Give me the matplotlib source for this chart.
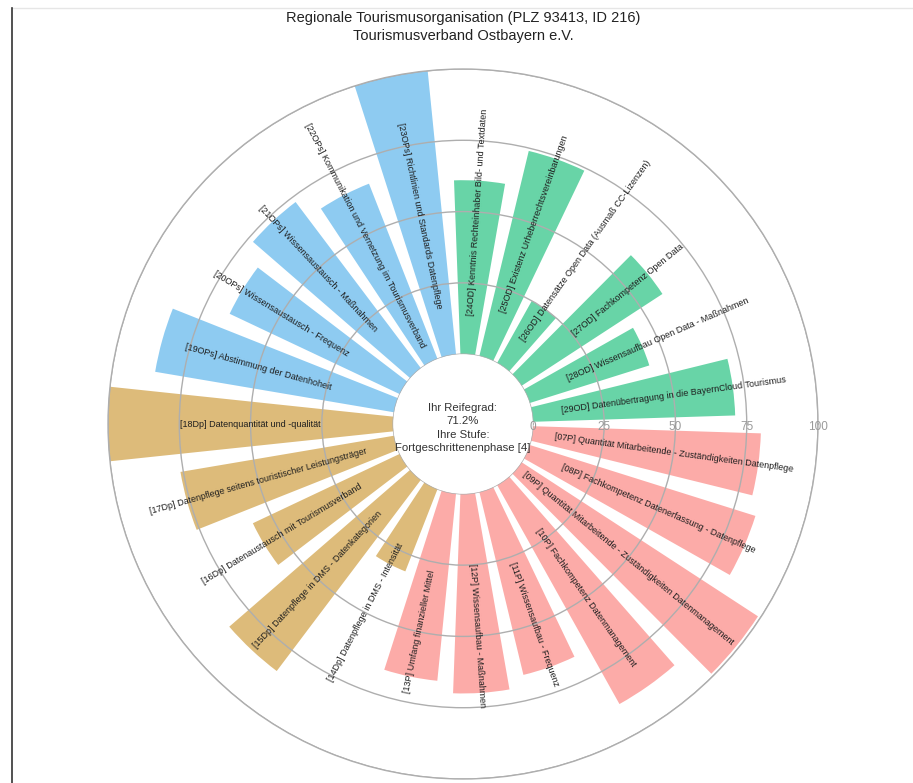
import matplotlib
matplotlib.use('Agg')
import matplotlib.pyplot as plt
import matplotlib.transforms as mtransforms
import numpy as np

plt.rcParams['font.family'] = ['Liberation Sans', 'DejaVu Sans']

codes = ['07P', '08P', '09P', '10P', '11P', '12P', '13P',
         '14Dp', '15Dp', '16Dp', '17Dp', '18Dp',
         '19OPs', '20OPs', '21OPs', '22OPs', '23OPs',
         '24OD', '25OD', '26OD', '27OD', '28OD', '29OD']
names = ['Quantität Mitarbeitende - Zuständigkeiten Datenpflege',
         'Fachkompetenz Datenerfassung - Datenpflege',
         'Quantität Mitarbeitende - Zuständigkeiten Datenmanagement',
         'Fachkompetenz Datenmanagement',
         'Wissensaufbau - Frequenz',
         'Wissensaufbau - Maßnahmen',
         'Umfang finanzieller Mittel',
         'Datenpflege in DMS - Intensität',
         'Datenpflege in DMS - Datenkategorien',
         'Datenaustausch mit Tourismusverband',
         'Datenpflege seitens touristischer Leistungsträger',
         'Datenquantität und -qualität',
         'Abstimmung der Datenhoheit',
         'Wissensaustausch - Frequenz',
         'Wissensaustausch - Maßnahmen',
         'Kommunikation und Vernetzung im Tourismusverband',
         'Richtlinien und Standards Datenpflege',
         'Kenntnis Rechteinhaber Bild- und Textdaten',
         'Existenz Urheberrechtsvereinbarungen',
         'Datensätze Open Data (Ausmaß CC-Lizenzen)',
         'Fachkompetenz Open Data',
         'Wissensaufbau Open Data - Maßnahmen',
         'Datenübertragung in die BayernCloud Tourismus']
values = [80, 83, 99, 88, 66, 70, 66,
          31, 84, 57, 76, 100,
          85, 66, 73, 66, 100,
          61, 74, 25, 59, 44, 71]
groups = ['P'] * 7 + ['Dp'] * 5 + ['OPs'] * 5 + ['OD'] * 6
group_colors = {'P': '#fcaba8', 'Dp': '#ddbb7a', 'OPs': '#8ecbf1', 'OD': '#68d4a7'}
r_ticks = [0, 25, 50, 75, 100]

title = 'Regionale Tourismusorganisation (PLZ 93413, ID 216)\nTourismusverband Ostbayern e.V.'
center_text = 'Ihr Reifegrad:\n71.2%\nIhre Stufe:\nFortgeschrittenenphase [4]'

n = len(values)
step = 2 * np.pi / n
theta = (np.arange(n) + 0.5) * step
colors = [group_colors[g] for g in groups]

fig = plt.figure(figsize=(9.13, 7.83), dpi=100)
ax = fig.add_axes([108 / 913, 1 - 779 / 783, 710 / 913, 710 / 783], projection='polar')
ax.set_theta_direction(-1)
ax.set_theta_offset(0)
ax.set_ylim(0, 100)
ax.set_rorigin(-24.5)

ax.bar(theta, values, width=step * 0.77, color=colors, linewidth=0, zorder=1)

ax.set_xticks([])
ax.set_yticks(r_ticks)
ax.set_yticklabels([])
ax.tick_params(axis='y', length=0)
ax.yaxis.grid(True, color='#aeaeae', linewidth=1.0)
ax.set_axisbelow(False)
for name, sp in ax.spines.items():
    if name == 'polar':
        sp.set_color('#aeaeae')
        sp.set_linewidth(1.0)
    else:
        sp.set_visible(False)
        sp.set_linewidth(0)

# Skalenbeschriftung entlang 0°
shift = mtransforms.offset_copy(ax.transData, fig=fig, x=0, y=-3, units='dots')
for t in r_ticks:
    ax.text(0, t, str(t), transform=shift, ha='center', va='center',
            fontsize=8.5, color='#9a9a9a', zorder=4)

for t, code, name in zip(theta, codes, names):
    ang = (-np.degrees(t)) % 360
    if ang > 180:
        ang -= 360
    rot = ang if -90 < ang <= 90 else ang + 180
    ax.text(t, 50, f'[{code}] {name}', rotation=rot, rotation_mode='anchor',
            ha='center', va='center', fontsize=6.5, color='#1e1e1e', zorder=3)

mid = mtransforms.offset_copy(ax.transData, fig=fig, x=0, y=-4, units='dots')
ax.text(0, -24.5, center_text, transform=mid, ha='center', va='center',
        fontsize=8.2, color='#333333', linespacing=1.4)

fig.text(463 / 913, 1 - 27 / 783, title, ha='center', va='center',
         fontsize=10.5, color='#222222', linespacing=1.3)

# Rahmen des Screenshots
fig.add_artist(plt.Line2D([12 / 913, 1], [1 - 8 / 783, 1 - 8 / 783],
                          transform=fig.transFigure, color='#e6e6e6', lw=1))
fig.add_artist(plt.Line2D([11.5 / 913, 11.5 / 913], [0, 1 - 8 / 783],
                          transform=fig.transFigure, color='#333333', lw=1.2))

fig.savefig('out.png', dpi=100)
